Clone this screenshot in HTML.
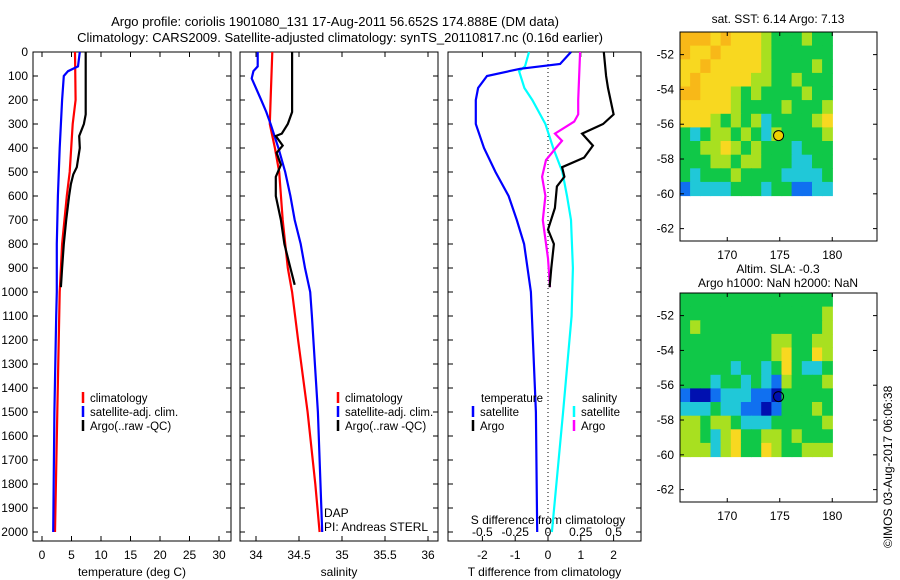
<!DOCTYPE html>
<html><head><meta charset="utf-8"><style>
body{margin:0;background:#fff}
svg{display:block;font-family:"Liberation Sans",sans-serif;font-size:12px}
</style></head><body>
<svg id="c" width="900" height="580" viewBox="0 0 900 580"></svg>
<script>
const depthTicks=[0,100,200,300,400,500,600,700,800,900,1000,1100,1200,1300,1400,1500,1600,1700,1800,1900,2000];
const tTicks=[0,5,10,15,20,25,30];
const sTicks=[34,34.5,35,35.5,36];
const dTicks=[-2,-1,0,1,2];
const dTopLabels=['-0.5','-0.25','0','0.25','0.5'];
const tClimD=[0,200,300,500,600,800,1000,1500,2000];
const tClimV=[5.6,5.7,5.2,4.7,4.2,3.4,3.0,2.6,2.2];
const tSatD=[0,60,80,100,200,400,600,800,1000,1100,1500,2000];
const tSatV=[6.4,6.1,4.4,3.7,3.4,3.0,2.7,2.5,2.5,2.4,2.1,1.9];
const tArgoD=[0,260,300,350,400,480,510,550,600,700,800,900,980];
const tArgoV=[7.4,7.4,7.1,6.3,6.4,5.9,5.3,4.9,4.6,4.1,3.7,3.4,3.2];
const sClimD=[0,200,300,400,500,700,900,1000,1200,1500,1800,2000];
const sClimV=[34.19,34.17,34.16,34.22,34.27,34.31,34.37,34.42,34.49,34.6,34.69,34.74];
const sSatD=[0,60,80,110,200,250,300,400,500,600,700,800,900,1000,1100,1500,2000];
const sSatV=[34.02,34.02,33.97,33.95,34.06,34.12,34.17,34.26,34.34,34.4,34.45,34.52,34.57,34.63,34.65,34.72,34.77];
const sArgoD=[0,250,300,340,350,390,420,470,520,600,700,800,900,970];
const sArgoV=[34.42,34.42,34.37,34.3,34.23,34.31,34.24,34.29,34.23,34.23,34.29,34.33,34.4,34.45];
const dtSatD=[0,50,70,100,150,200,300,400,500,600,700,800,1000,1500,2000];
const dtSatV=[0.7,0.37,-0.85,-1.86,-2.13,-2.2,-2.2,-1.95,-1.6,-1.2,-0.95,-0.73,-0.52,-0.37,-0.33];
const dsSatD=[0,60,80,150,200,300,400,500,600,700,900,1100,1500,2000];
const dsSatV=[-0.145,-0.175,-0.22,-0.18,-0.12,-0.02,0.04,0.11,0.145,0.175,0.19,0.18,0.115,0.03];
const dtArgoD=[0,100,150,260,300,340,390,440,480,520,560,650,740,800,900,980];
const dtArgoV=[1.7,1.77,1.83,2.0,1.68,1.04,1.37,1.1,0.43,0.5,0.27,0.21,0,0.18,0.1,0.05];
const dsArgoD=[0,200,260,290,340,370,400,450,520,600,700,780,860,980];
const dsArgoV=[0.245,0.23,0.23,0.2,0.053,0.107,0.06,-0.015,-0.045,-0.02,-0.04,-0.02,0,0.015];
const sstGrid=[
"666565554333433","655655554333333","556555554333343","565555544334333",
"665554343333433","555554333343334","555434342333345","323443432433334",
"334454343332333","333443443332233","323334333322223","122223332331122"];
const slaGrid=[
"333333333333333","333333333333334","343333333333334","333333333443344",
"333333333453354","333332332353223","333233232143334","100122211033333",
"222322110133343","443443222333334","443245334434333","444245335433444"];
const lonTicks=[170,175,180];
const latTicks=[-52,-54,-56,-58,-60,-62];

const svg=document.getElementById('c');const NS='http://www.w3.org/2000/svg';
function mk(tag,at,parent){const e=document.createElementNS(NS,tag);for(const k in at)e.setAttribute(k,at[k]);(parent||svg).appendChild(e);return e;}
function txt(x,y,s,anchor,name,extra){const e=mk('text',Object.assign({x:x,y:y,'text-anchor':anchor||'start'},extra||{}));e.textContent=s;

return e;}
const Y=d=>52+d*0.24;
function panel(x0,x1,xs,ticks,labels,title,name){
 const r=mk('rect',{x:x0,y:52,width:x1-x0,height:489,fill:'none',stroke:'#000','stroke-width':1});
 
 
 depthTicks.forEach(d=>{mk('line',{x1:x0,x2:x0+5,y1:Y(d),y2:Y(d),stroke:'#000'});mk('line',{x1:x1,x2:x1-5,y1:Y(d),y2:Y(d),stroke:'#000'});});
 ticks.forEach((t,i)=>{const x=xs(t);mk('line',{x1:x,x2:x,y1:541,y2:536,stroke:'#000'});mk('line',{x1:x,x2:x,y1:52,y2:57,stroke:'#000'});
  txt(x,559,labels[i],'middle',name+'-xtick');});
 txt((x0+x1)/2,576,title,'middle',name+'-x-title');
}
function line(D,V,xs,color,name,w){const p=D.map((d,i)=>(i?'L':'M')+xs(V[i]).toFixed(1)+','+Y(d).toFixed(1)).join('');
 const e=mk('path',{d:p,fill:'none',stroke:color,'stroke-width':w||2.2});
 
 }
const xT=t=>42+t*5.9, xS=s=>256+(s-34)*86, xD=t=>548+t*32.8, xDS=s=>548+s*4*32.8;
txt(335,26,'Argo profile: coriolis 1901080_131 17-Aug-2011 56.652S 174.888E (DM data)','middle','title-line-1',{'font-size':'13'});
txt(340,42,'Climatology: CARS2009. Satellite-adjusted climatology: synTS_20110817.nc (0.16d earlier)','middle','title-line-2',{'font-size':'13'});
depthTicks.forEach(d=>txt(28,Y(d)+4,String(d),'end','depth-tick-label'));
panel(33,231,xT,tTicks,tTicks.map(String),'temperature (deg C)','temperature-panel');
panel(240,438,xS,sTicks,sTicks.map(String),'salinity','salinity-panel');
panel(448,641,xD,dTicks,dTicks.map(String),'T difference from climatology','difference-panel');
dTicks.forEach((t,i)=>txt(xD(t),536,dTopLabels[i],'middle','s-diff-tick-label'));
txt(548,524,'S difference from climatology','middle','s-diff-axis-title');
const zl=mk('line',{x1:548,x2:548,y1:52,y2:541,stroke:'#000','stroke-dasharray':'1,3'});


line(tClimD,tClimV,xT,'#f00','temp-climatology');
line(tSatD,tSatV,xT,'#00f','temp-satellite-clim');
line(tArgoD,tArgoV,xT,'#000','temp-argo');
line(sClimD,sClimV,xS,'#f00','sal-climatology');
line(sSatD,sSatV,xS,'#00f','sal-satellite-clim');
line(sArgoD,sArgoV,xS,'#000','sal-argo');
line(dsSatD,dsSatV,xDS,'#0ff','sdiff-satellite');
line(dsArgoD,dsArgoV,xDS,'#f0f','sdiff-argo');
line(dtSatD,dtSatV,xD,'#00f','tdiff-satellite');
line(dtArgoD,dtArgoV,xD,'#000','tdiff-argo');
function legend(x,y,items,name){items.forEach((it,i)=>{mk('line',{x1:x,x2:x,y1:y+i*14-10,y2:y+i*14+1,stroke:it[1],'stroke-width':2.5});txt(x+7,y+i*14,it[0],'start',name,{'font-size':'11.5'});});}
legend(83,402,[['climatology','#f00'],['satellite-adj. clim.','#00f'],['Argo(..raw -QC)','#000']],'temp-legend-entry');
legend(338,402,[['climatology','#f00'],['satellite-adj. clim.','#00f'],['Argo(..raw -QC)','#000']],'sal-legend-entry');
txt(481,402,'temperature','start','diff-legend-header',{'font-size':'11.5'});txt(582,402,'salinity','start','diff-legend-header',{'font-size':'11.5'});
legend(473,416,[['satellite','#00f'],['Argo','#000']],'tdiff-legend-entry');
legend(574,416,[['satellite','#0ff'],['Argo','#f0f']],'sdiff-legend-entry');
txt(324,517,'DAP','start','dap-label');txt(324,531,'PI: Andreas STERL','start','pi-label');
const cmap=['#0010b0','#1070f0','#20c8d8','#10c848','#a8e020','#f8d820','#f8b818'];
function map(top,grid,title1,title2,name){
 const LX=lon=>680+(lon-165.5)*10.5, LY=lat=>top+(-50.7-lat)*17.4;
 const nr=grid.length,nc=grid[0].length,cw=(LX(180)-LX(165.5))/nc,ch=(LY(-60.1)-LY(-50.7))/nr;
 grid.forEach((row,r)=>{for(let c=0;c<nc;c++){const e=mk('rect',{x:(LX(165.5)+c*cw).toFixed(1),y:(LY(-50.7)+r*ch).toFixed(1),width:(cw+0.6).toFixed(1),height:(ch+0.6).toFixed(1),fill:cmap[+row[c]]});
 
 }});
 const f=mk('rect',{x:680,y:top,width:197,height:209,fill:'none',stroke:'#000'});
 
 
 latTicks.forEach(l=>{const y=LY(l);mk('line',{x1:680,x2:684,y1:y,y2:y,stroke:'#000'});mk('line',{x1:877,x2:873,y1:y,y2:y,stroke:'#000'});txt(674,y+4,String(l),'end',name+'-lat-label');});
 lonTicks.forEach(l=>{const x=LX(l);mk('line',{x1:x,x2:x,y1:top+209,y2:top+205,stroke:'#000'});mk('line',{x1:x,x2:x,y1:top,y2:top+4,stroke:'#000'});txt(x,top+227,String(l),'middle',name+'-lon-label');});
 const c=mk('circle',{cx:LX(174.888),cy:LY(-56.652),r:5,fill:name==='sst-map'?'#f0d000':'none',stroke:'#000'});
 
 
 if(title2){txt(778,top-20,title1,'middle',name+'-title');txt(778,top-6,title2,'middle',name+'-title');}
 else txt(778,top-9,title1,'middle',name+'-title');
}
map(32,sstGrid,'sat. SST: 6.14 Argo: 7.13',null,'sst-map');
map(293,slaGrid,'Altim. SLA: -0.3','Argo h1000: NaN h2000: NaN','sla-map');
txt(0,0,'©IMOS 03-Aug-2017 06:06:38','start','timestamp',{transform:'translate(892,548) rotate(-90)'});
</script>
</body></html>
